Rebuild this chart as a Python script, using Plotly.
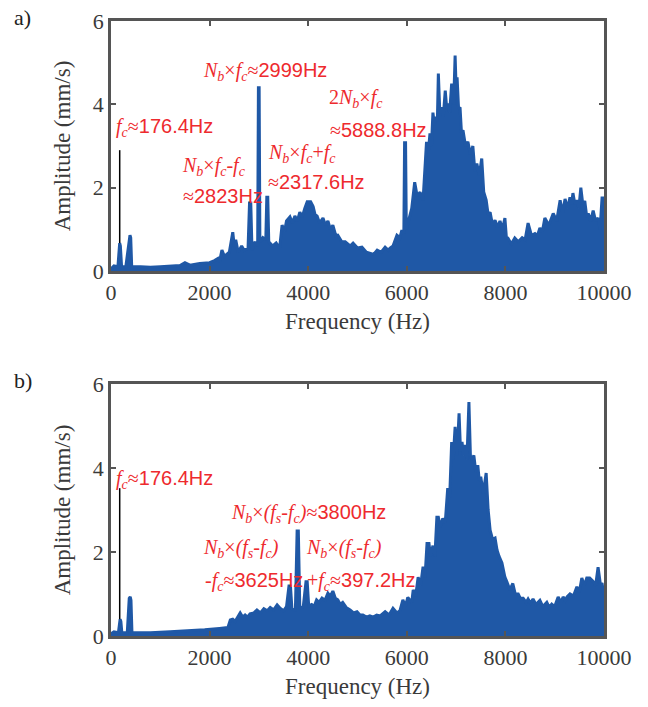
import plotly.graph_objects as go

# ---------------- data ----------------
freq_a = [0, 60, 140, 165, 176, 190, 215, 300, 370, 385, 400, 420, 600, 800, 1000, 1200, 1400, 1500, 1600,
          1800, 2000, 2100, 2170, 2200, 2250, 2300, 2400, 2470, 2500, 2530, 2580, 2650, 2700, 2780, 2810,
          2835, 2860, 2920, 2975, 2990, 3005, 3020, 3080, 3140, 3160, 3180, 3200, 3280, 3350, 3420, 3470,
          3520, 3560, 3630, 3680, 3730, 3780, 3830, 3880, 3930, 3980, 4050, 4100, 4140, 4180, 4230, 4300,
          4350, 4400, 4450, 4500, 4560, 4600, 4680, 4750, 4850, 4910, 5000, 5090, 5180, 5250, 5330, 5400,
          5480, 5560, 5620, 5660, 5720, 5800, 5860, 5900, 5940, 5955, 5975, 5990, 6050, 6100, 6160, 6210,
          6270, 6330, 6400, 6440, 6470, 6500, 6530, 6560, 6600, 6620, 6640, 6670, 6710, 6740, 6780, 6810,
          6840, 6870, 6910, 6950, 6980, 7000, 7020, 7050, 7080, 7110, 7140, 7190, 7240, 7290, 7340, 7380,
          7420, 7470, 7520, 7560, 7610, 7650, 7690, 7740, 7790, 7840, 7890, 7940, 7990, 8020, 8050, 8120,
          8190, 8260, 8340, 8400, 8460, 8530, 8600, 8650, 8700, 8750, 8800, 8880, 8970, 9040, 9110, 9160,
          9210, 9260, 9310, 9340, 9370, 9410, 9450, 9490, 9530, 9570, 9610, 9650, 9680, 9730, 9780, 9830,
          9880, 9920, 9960, 10000]
amp_a = [0.05, 0.12, 0.1, 0.62, 0.67, 0.6, 0.1, 0.1, 0.8, 0.86, 0.8, 0.1, 0.1, 0.09, 0.1, 0.11, 0.13, 0.2, 0.14,
         0.18, 0.2, 0.25, 0.3, 0.22, 0.5, 0.35, 0.45, 0.93, 0.6, 0.75, 0.45, 0.6, 0.5, 0.55, 1.63,
         1.63, 0.5, 0.7, 0.6, 4.4, 4.4, 0.7, 0.8, 0.75, 1.77, 1.77, 0.7, 0.6, 0.67, 0.55, 1.1,
         0.95, 1.2, 1.3, 1.15, 1.32, 1.2, 1.41, 1.3, 1.5, 1.66, 1.66, 1.55, 1.35, 1.32, 1.15, 1.27,
         1.1, 1.2, 1.0, 1.1, 0.85, 0.86, 0.7, 0.7, 0.6, 0.67, 0.55, 0.57, 0.45, 0.43, 0.4, 0.5,
         0.45, 0.57, 0.5, 0.55, 0.6, 0.86, 0.8, 0.98, 0.9, 3.08, 3.08, 1.0, 1.3, 1.5, 2.13, 1.8,
         1.89, 1.7, 3.1, 2.9, 3.3, 3.0, 3.8, 3.5, 3.7, 3.6, 4.74, 3.8, 3.93, 3.7, 4.33, 3.9,
         4.02, 3.8, 4.5, 4.0, 5.17, 4.4, 4.65, 3.9, 3.93, 3.3, 3.38, 3.0, 3.1, 2.8, 3.0, 2.4,
         2.58, 2.3, 2.7, 1.9, 1.7, 1.35, 1.41, 1.1, 1.22, 1.05, 1.2, 1.0, 1.27, 0.8, 0.79, 0.65,
         0.79, 0.7, 0.8, 0.75, 1.15, 0.85, 0.9, 0.85, 1.03, 0.95, 1.27, 1.1, 1.38, 1.2, 1.7, 1.4,
         1.73, 1.5, 1.77, 1.6, 1.87, 1.6, 1.7, 1.5, 2.0, 1.6, 1.68, 1.3, 1.38, 1.2, 1.45, 1.2,
         1.27, 1.0, 1.75, 1.75]

freq_b = [0, 60, 150, 170, 185, 200, 220, 330, 370, 390, 405, 425, 800, 1200, 1600, 1900, 2200, 2370, 2420,
          2470, 2520, 2570, 2620, 2670, 2720, 2770, 2820, 2900, 2960, 3030, 3100, 3170, 3230, 3300, 3370,
          3430, 3500, 3560, 3610, 3640, 3670, 3740, 3775, 3800, 3830, 3900, 3955, 3980, 4010, 4070, 4120,
          4170, 4220, 4280, 4340, 4400, 4450, 4500, 4550, 4600, 4650, 4700, 4770, 4850, 4920, 4990, 5050,
          5110, 5180, 5250, 5320, 5390, 5460, 5560, 5640, 5720, 5800, 5860, 5920, 5970, 6020, 6060, 6100,
          6130, 6180, 6230, 6280, 6330, 6370, 6410, 6450, 6480, 6530, 6570, 6610, 6640, 6680, 6730, 6780,
          6830, 6870, 6910, 6940, 6980, 7020, 7060, 7090, 7120, 7150, 7180, 7220, 7260, 7290, 7320, 7360,
          7400, 7440, 7470, 7500, 7550, 7610, 7650, 7690, 7740, 7790, 7830, 7870, 7930, 7990, 8030, 8090,
          8150, 8200, 8260, 8300, 8360, 8420, 8460, 8510, 8560, 8620, 8700, 8760, 8840, 8890, 8940, 9000,
          9070, 9130, 9170, 9220, 9250, 9310, 9380, 9450, 9500, 9550, 9600, 9650, 9710, 9780, 9830, 9880,
          9930, 9960, 10000]
amp_b = [0.05, 0.1, 0.08, 0.38, 0.4, 0.35, 0.08, 0.08, 0.9, 0.93, 0.85, 0.08, 0.08, 0.1, 0.12, 0.15, 0.18, 0.2, 0.38,
         0.4, 0.35, 0.45, 0.55, 0.45, 0.5, 0.45, 0.53, 0.55, 0.62, 0.55, 0.65, 0.6, 0.68, 0.62, 0.74,
         0.66, 0.6, 0.7, 1.19, 1.19, 0.65, 0.6, 2.5, 2.5, 0.65, 0.7, 1.29, 1.29, 0.72, 0.75, 0.7,
         0.86, 0.8, 0.9, 0.85, 1.02, 0.95, 1.07, 0.9, 0.86, 0.75, 0.8, 0.68, 0.62, 0.55, 0.58, 0.5,
         0.5, 0.45, 0.48, 0.45, 0.5, 0.48, 0.58, 0.5, 0.66, 0.55, 0.6, 0.86, 0.7, 0.92, 0.86, 0.8,
         1.1, 0.95, 1.4, 1.2, 1.65, 1.4, 2.2, 2.2, 1.9, 2.15, 1.9, 2.83, 2.83, 2.6, 2.8, 2.7,
         3.52, 3.3, 4.62, 4.2, 4.98, 4.3, 5.3, 4.4, 4.62, 4.3, 4.55, 4.2, 5.57, 4.3, 4.19, 4.3,
         3.9, 4.07, 3.7, 3.79, 3.4, 3.88, 3.0, 2.52, 2.3, 2.33, 2.05, 1.9, 1.74, 1.4, 1.29, 1.1,
         1.25, 1.0, 1.0, 0.9, 0.9, 0.8, 0.88, 0.78, 0.88, 0.75, 0.85, 0.7, 0.8, 0.68, 0.76, 0.7,
         0.93, 0.8, 0.93, 0.85, 0.93, 1.0, 0.95, 1.17, 1.05, 1.38, 1.2, 1.38, 1.38, 1.3, 1.2, 1.64,
         1.2, 1.26, 0.95]

fc = 176.4
marker_a = [0.67, 2.9]   # black f_c marker line, panel a
marker_b = [0.4, 3.52]   # panel b

x_ticks = [0, 2000, 4000, 6000, 8000, 10000]
x_ticktext = ["0", "2000", "4000", "6000", "8000", "10000"]
y_ticks = [0, 2, 4, 6]
y_ticktext = ["0", "2", "4", "6"]

# ---------------- styling ----------------
BLUE = "#1f58a6"
RED = "#ee2a2e"
AX = "#555555"
TXT = "#3a3a3a"
SERIF = "Liberation Serif, Times New Roman, serif"

fig = go.Figure()
fig.add_trace(go.Scatter(x=freq_a, y=amp_a, mode="lines", fill="tozeroy", fillcolor=BLUE,
                         line=dict(color=BLUE, width=3), xaxis="x", yaxis="y", showlegend=False))
fig.add_trace(go.Scatter(x=[fc, fc], y=marker_a, mode="lines", line=dict(color="black", width=1.5),
                         xaxis="x", yaxis="y", showlegend=False))
fig.add_trace(go.Scatter(x=freq_b, y=amp_b, mode="lines", fill="tozeroy", fillcolor=BLUE,
                         line=dict(color=BLUE, width=3), xaxis="x2", yaxis="y2", showlegend=False))
fig.add_trace(go.Scatter(x=[fc, fc], y=marker_b, mode="lines", line=dict(color="black", width=1.5),
                         xaxis="x2", yaxis="y2", showlegend=False))

W, H = 648, 707
xdom = [111 / W, 604 / W]
ydom_a = [1 - 271 / H, 1 - 21 / H]
ydom_b = [1 - 636 / H, 1 - 384 / H]

def xax(anchor):
    return dict(domain=xdom, anchor=anchor, range=[0, 10000], tickvals=x_ticks, ticktext=x_ticktext,
                ticks="inside", ticklen=5, tickwidth=1.5, tickcolor=AX, automargin=False,
                showline=True, linewidth=2.5, linecolor=AX, mirror="allticks",
                showgrid=False, zeroline=False,
                tickfont=dict(family=SERIF, size=22, color=TXT),
                title=dict(text="Frequency (Hz)", font=dict(family=SERIF, size=23, color=TXT), standoff=9))

def yax(anchor, dom):
    return dict(domain=dom, anchor=anchor, range=[0, 6], tickvals=y_ticks, ticktext=y_ticktext,
                ticks="inside", ticklen=5, tickwidth=1.5, tickcolor=AX, automargin=False,
                showline=True, linewidth=2.5, linecolor=AX, mirror="allticks",
                showgrid=False, zeroline=False,
                tickfont=dict(family=SERIF, size=22, color=TXT),
                title=dict(text="Amplitude (mm/s)", font=dict(family=SERIF, size=23, color=TXT), standoff=16))

def S(t):
    return '<span style="font-family:Liberation Sans, Arial, sans-serif">' + t + '</span>'

Nb = "<i>N</i><sub><i>b</i></sub>"
fcs = "<i>f</i><sub><i>c</i></sub>"
fss = "<i>f</i><sub><i>s</i></sub>"
pair = Nb + "×<i>(</i>" + fss + "-" + fcs + "<i>)</i>"

ann_a = [
    (1846, 4.8, Nb + "×" + fcs + "≈" + S("2999Hz")),
    (81, 3.44, fcs + "≈" + S("176.4Hz")),
    (4400, 4.14, "2" + Nb + "×" + fcs),
    (4420, 3.38, "≈" + S("5888.8Hz")),
    (1420, 2.51, Nb + "×" + fcs + "-" + fcs),
    (1440, 1.81, "≈" + S("2823Hz")),
    (3164, 2.83, Nb + "×" + fcs + "+" + fcs),
    (3170, 2.13, "≈" + S("2317.6Hz")),
]
ann_b = [
    (81, 3.73, fcs + "≈" + S("176.4Hz")),
    (2420, 2.92, pair + "≈" + S("3800Hz")),
    (1846, 2.08, pair),
    (3935, 2.08, pair),
    (1880, 1.30, "-" + fcs + "≈" + S("3625Hz")),
    (3960, 1.30, "+" + fcs + "≈" + S("397.2Hz")),
]

annotations = []
for (x, y, t) in ann_a:
    annotations.append(dict(x=x, y=y, xref="x", yref="y", text=t, showarrow=False,
                            xanchor="left", yanchor="middle", borderpad=0,
                            font=dict(family=SERIF, size=20, color=RED)))
for (x, y, t) in ann_b:
    annotations.append(dict(x=x, y=y, xref="x2", yref="y2", text=t, showarrow=False,
                            xanchor="left", yanchor="middle", borderpad=0,
                            font=dict(family=SERIF, size=20, color=RED)))
annotations.append(dict(x=12 / W, y=1 - 18 / H, xref="paper", yref="paper", text="a)", showarrow=False,
                        xanchor="left", yanchor="middle", font=dict(family=SERIF, size=22, color="#222")))
annotations.append(dict(x=12 / W, y=1 - 380 / H, xref="paper", yref="paper", text="b)", showarrow=False,
                        xanchor="left", yanchor="middle", font=dict(family=SERIF, size=22, color="#222")))

fig.update_layout(
    width=W, height=H, margin=dict(l=0, r=0, t=0, b=0),
    paper_bgcolor="white", plot_bgcolor="white",
    xaxis=xax("y"), yaxis=yax("x", ydom_a),
    xaxis2=xax("y2"), yaxis2=yax("x2", ydom_b),
    annotations=annotations, showlegend=False,
)

fig.write_html("out.html")
